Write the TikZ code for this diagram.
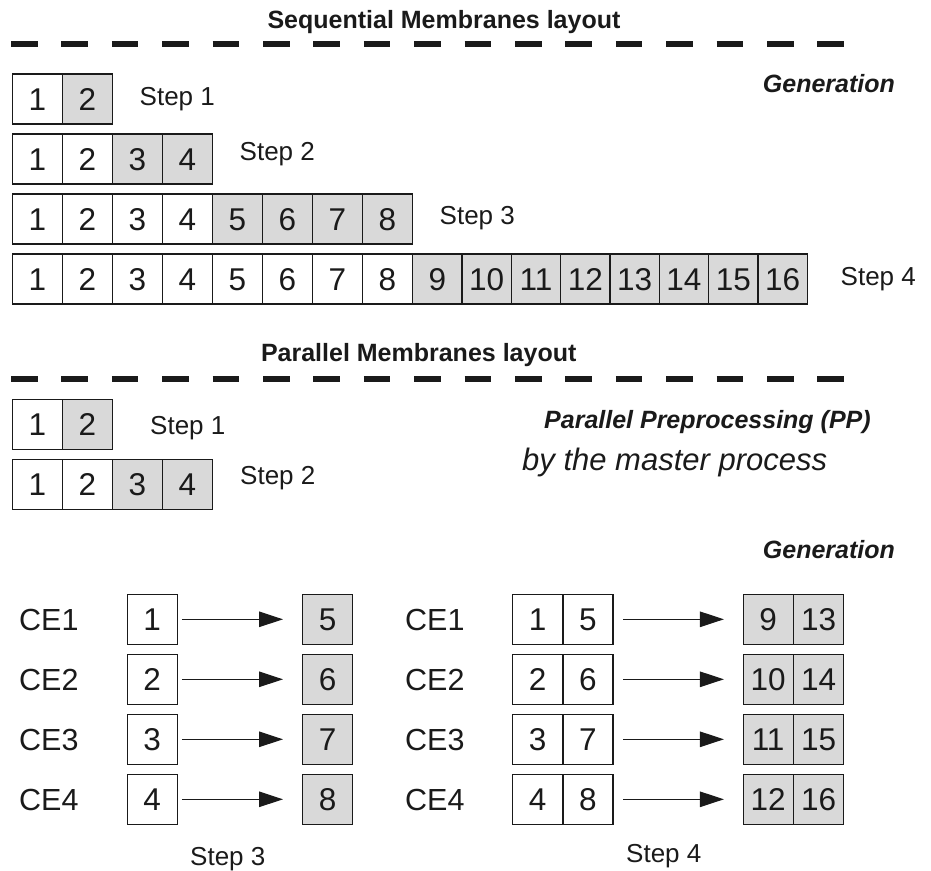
\documentclass[tikz,border=0pt]{standalone}
\usepackage{fontspec}
\setmainfont{Liberation Sans}
\usetikzlibrary{arrows.meta}
\definecolor{ink}{HTML}{1A1A1A}
\definecolor{cellgray}{HTML}{D9D9D9}

\begin{document}
\begin{tikzpicture}[x=1pt,y=-1pt,
  cell/.style={draw=ink,line width=1.3pt,minimum width=50pt,minimum height=50pt,
    inner sep=0pt,anchor=west,fill=white,text=ink,text height=22pt,text depth=0pt,
    font=\fontsize{31.5}{36}\selectfont},
  gcell/.style={cell,fill=cellgray},
  steplbl/.style={anchor=base west,inner sep=0pt,text=ink,font=\fontsize{26}{31}\selectfont},
  title/.style={anchor=base,inner sep=0pt,text=ink,font=\fontsize{25}{30}\selectfont\bfseries},
  note/.style={anchor=base west,inner sep=0pt,text=ink,font=\fontsize{25}{30}\selectfont\bfseries\itshape},
  celbl/.style={anchor=base west,inner sep=0pt,text=ink,font=\fontsize{30.5}{36}\selectfont},
  divider/.style={draw=ink,line width=5.5pt,dash pattern=on 26.5pt off 23.9pt},
  flow/.style={draw=ink,line width=1.1pt,-{Triangle[length=24pt,width=15.5pt]}}
]
\useasboundingbox (0,0) rectangle (931,870);

% ---------- Sequential layout ----------
\node[title] (t1) at (444,28) {Sequential Membranes layout};
\coordinate (d1a) at (11,44);
\coordinate (d1b) at (844,44);
\draw[divider] (d1a) -- (d1b);
\node[note] (gen1) at (762.7,92.7) {Generation};

% step 1
\node[cell]  (a1) at (11.7,99) {1};
\node[gcell] (a2) at (61.7,99) {2};
\node[steplbl] (sa) at (139.5,105) {Step 1};
% step 2
\foreach \i in {1,2}{\node[cell] (b\i) at ({11.7+50*(\i-1)},159) {\i};}
\foreach \i in {3,4}{\node[gcell] (b\i) at ({11.7+50*(\i-1)},159) {\i};}
\node[steplbl] (sb) at (239.5,160) {Step 2};
% step 3
\foreach \i in {1,...,4}{\node[cell] (c\i) at ({11.7+50*(\i-1)},219) {\i};}
\foreach \i in {5,...,8}{\node[gcell] (c\i) at ({11.7+50*(\i-1)},219) {\i};}
\node[steplbl] (sc) at (439.5,224.5) {Step 3};
% step 4
\foreach \i in {1,...,8}{\node[cell] (d\i) at ({11.7+50*(\i-1)},279) {\i};}
\foreach \i in {9,...,16}{\node[gcell,minimum width=49.3pt] (d\i) at ({412+49.33*(\i-9)},279) {\i};}
\node[steplbl] (sd) at (840.5,285) {Step 4};

% ---------- Parallel layout ----------
\node[title] (t2) at (418.7,361.7) {Parallel Membranes layout};
\coordinate (d2a) at (11,379);
\coordinate (d2b) at (844,379);
\draw[divider] (d2a) -- (d2b);

\node[cell]  (p1) at (11.7,424.3) {1};
\node[gcell] (p2) at (61.7,424.3) {2};
\node[steplbl] (pa) at (150,434) {Step 1};
\node[cell]  (q1) at (11.7,484.3) {1};
\node[cell]  (q2) at (61.7,484.3) {2};
\node[gcell] (q3) at (111.7,484.3) {3};
\node[gcell] (q4) at (161.7,484.3) {4};
\node[steplbl] (pb) at (240,484) {Step 2};

\node[note] (pp) at (544,428.3) {Parallel Preprocessing (PP)};
\node[anchor=base west,inner sep=0pt,text=ink,font=\fontsize{31}{37}\selectfont\itshape] (mp) at (522,470) {by the master process};
\node[note] (gen2) at (762.7,558.3) {Generation};

% ---------- Step 3 on the compute elements ----------
\foreach \k/\src/\dst in {1/1/5,2/2/6,3/3/7,4/4/8}{
  \pgfmathsetmacro\yy{619.3+60*(\k-1)}
  \node[celbl] (ce\k) at (19,\yy+11) {CE\k};
  \node[cell]  (l\k) at (126.5,\yy) {\src};
  \node[gcell] (r\k) at (302,\yy) {\dst};
  \draw[flow,shorten <=4pt,shorten >=19pt] (l\k.east) -- (r\k.west);
}
\node[steplbl] (s3) at (190,865) {Step 3};

% ---------- Step 4 on the compute elements ----------
\foreach \k/\sa/\sb/\da/\db in {1/1/5/9/13,2/2/6/10/14,3/3/7/11/15,4/4/8/12/16}{
  \pgfmathsetmacro\yy{619.3+60*(\k-1)}
  \node[celbl] (cf\k) at (405,\yy+11) {CE\k};
  \node[cell]  (la\k) at (512,\yy) {\sa};
  \node[cell]  (lb\k) at (562.3,\yy) {\sb};
  \node[gcell] (ra\k) at (742.5,\yy) {\da};
  \node[gcell] (rb\k) at (793,\yy) {\db};
  \draw[flow,shorten <=9.7pt,shorten >=18.6pt] (lb\k.east) -- (ra\k.west);
}
\node[steplbl] (s4) at (626,862.7) {Step 4};
\end{tikzpicture}
\end{document}
